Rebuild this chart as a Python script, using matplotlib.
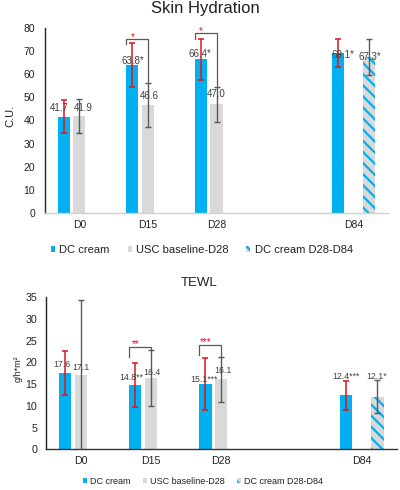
import numpy as np
import matplotlib
matplotlib.use("Agg")
import matplotlib.pyplot as plt
from matplotlib.patches import Patch

plt.rcParams['font.family'] = ['Liberation Sans', 'DejaVu Sans']
plt.rcParams['hatch.linewidth'] = 1.6

nan = np.nan
categories = ["D0", "D15", "D28", "", "D84"]
series_names = ["DC cream", "USC baseline-D28", "DC cream D28-D84"]

# ---- Skin Hydration (C.U.) ----
hyd_dc = [41.7, 63.8, 66.4, nan, 69.1]
hyd_dc_err = [7.1, 9.4, 8.9, nan, 6.2]
hyd_dc_lbl = ["41.7", "63.8*", "66.4*", "", "69.1*"]
hyd_usc = [41.9, 46.6, 47.0, nan, nan]
hyd_usc_err = [7.3, 9.4, 7.6, nan, nan]
hyd_usc_lbl = ["41.9", "46.6", "47.0", "", ""]
hyd_dc84 = [nan, nan, nan, nan, 67.3]
hyd_dc84_err = [nan, nan, nan, nan, 7.9]
hyd_dc84_lbl = ["", "", "", "", "67.3*"]
hyd_sig_idx = [1, 2]
hyd_sig_txt = ["*", "*"]
hyd_sig_top = [75.3, 77.5]
hyd_sig_left = [73.0, 75.0]
hyd_yticks = [0, 10, 20, 30, 40, 50, 60, 70, 80]

# ---- TEWL (g/h*m2) ----
tewl_dc = [17.6, 14.8, 15.1, nan, 12.4]
tewl_dc_err = [5.15, 5.1, 6.0, nan, 3.3]
tewl_dc_lbl = ["17.6", "14.8**", "15.1***", "", "12.4***"]
tewl_usc = [17.1, 16.4, 16.1, nan, nan]
tewl_usc_err = [17.3, 6.45, 5.1, nan, nan]
tewl_usc_lbl = ["17.1", "16.4", "16.1", "", ""]
tewl_dc84 = [nan, nan, nan, nan, 12.1]
tewl_dc84_err = [nan, nan, nan, nan, 3.75]
tewl_dc84_lbl = ["", "", "", "", "12.1*"]
tewl_sig_idx = [1, 2]
tewl_sig_txt = ["**", "***"]
tewl_sig_top = [23.5, 24.0]
tewl_sig_left = [21.3, 21.7]
tewl_yticks = [0, 5, 10, 15, 20, 25, 30, 35]

BLUE = '#00B0F0'
GREY = '#D9D9D9'
RED = '#E3141B'
DGREY = '#595959'
W = 0.175
OFF = 0.225

# label offsets in pixels (dx, dy) from bar top centre
hyd_off = {
    'dc': [(-4.7, 8.3), (0.5, 4), (-1, 5), (0, 0), (4.7, -2)],
    'usc': [(3.5, 7.8), (1.7, 9.2), (0, 10), (0, 0), (0, 0)],
    'dc84': [(0, 0), (0, 0), (0, 0), (0, 0), (0.5, 0)],
}
tewl_off = {
    'dc': [(-2.8, 8.6), (-3.5, 7.3), (-1, 4.7), (0, 0), (0, 18.8)],
    'usc': [(0.5, 7.7), (0.7, 5.8), (1.8, 8.7), (0, 0), (0, 0)],
    'dc84': [(0, 0), (0, 0), (0, 0), (0, 0), (-1, 20.7)],
}


def draw(ax, dc, dce, dcl, usc, usce, uscl, d84, d84e, d84l, offs,
         sig_idx, sig_txt, sig_top, sig_left, yticks, lblsize, ticksize,
         ypad, xpad, bottom_col, star_dy):
    x = np.arange(len(categories))
    ax.bar(x - OFF, dc, W, color=BLUE, zorder=2)
    ax.bar(x, usc, W, color=GREY, zorder=2)
    ax.bar(x + OFF, d84, W, color=GREY, edgecolor=BLUE, hatch='\\\\\\',
           linewidth=0, zorder=2)
    ax.errorbar(x - OFF, dc, yerr=dce, fmt='none', ecolor=RED, elinewidth=1.1,
                capsize=2.3, capthick=1.1, zorder=3)
    ax.errorbar(x, usc, yerr=usce, fmt='none', ecolor=DGREY, elinewidth=1.0,
                capsize=2.3, capthick=1.0, zorder=3)
    ax.errorbar(x + OFF, d84, yerr=d84e, fmt='none', ecolor=DGREY,
                elinewidth=1.0, capsize=2.3, capthick=1.0, zorder=3)
    for sx, vals, lbls, key in ((x - OFF, dc, dcl, 'dc'), (x, usc, uscl, 'usc'),
                                (x + OFF, d84, d84l, 'd84' if 'd84' in offs else 'dc84')):
        for i, (xx, v, t) in enumerate(zip(sx, vals, lbls)):
            if t and not np.isnan(v):
                dx, dy = offs[key][i]
                ax.annotate(t, (xx, v), xytext=(dx, dy), textcoords='offset pixels',
                            ha='center', va='center', fontsize=lblsize,
                            color='#404040', zorder=4)
    for i, txt, top, left in zip(sig_idx, sig_txt, sig_top, sig_left):
        xl = i - OFF - W / 2
        xr = i
        yr = usc[i] + usce[i]
        ax.plot([xl, xl, xr, xr], [left, top, top, yr], color=DGREY, lw=0.9,
                zorder=3, solid_joinstyle='miter')
        ax.annotate(txt, (i - OFF, top), xytext=(0, star_dy),
                    textcoords='offset pixels', ha='center', va='baseline',
                    fontsize=7, color=RED, zorder=4)
    ax.set_xlim(-0.5, len(categories) - 0.5)
    ax.set_ylim(yticks[0], yticks[-1])
    ax.set_yticks(yticks)
    ax.set_xticks(x)
    ax.set_xticklabels(categories)
    ax.tick_params(axis='both', length=0, labelsize=ticksize, colors='#222222')
    ax.tick_params(axis='y', pad=ypad)
    ax.tick_params(axis='x', pad=xpad)
    for s in ('top', 'right'):
        ax.spines[s].set_visible(False)
    ax.spines['left'].set_color('#222222')
    ax.spines['left'].set_linewidth(1.0)
    ax.spines['bottom'].set_color(bottom_col)
    ax.spines['bottom'].set_linewidth(1.0)


fig = plt.figure(figsize=(4, 4.9), dpi=100)
H = 490.0
ax1 = fig.add_axes([45 / 400, 1 - 213.3 / H, (388 - 45) / 400, (213.3 - 27.7) / H])
ax2 = fig.add_axes([45.7 / 400, 1 - 449.3 / H, (396.7 - 45.7) / 400, (449.3 - 297.3) / H])

draw(ax1, hyd_dc, hyd_dc_err, hyd_dc_lbl, hyd_usc, hyd_usc_err, hyd_usc_lbl,
     hyd_dc84, hyd_dc84_err, hyd_dc84_lbl, hyd_off, hyd_sig_idx, hyd_sig_txt,
     hyd_sig_top, hyd_sig_left, hyd_yticks, 7, 7.5, 7, 4.5, '#D0D0D0', -1)
draw(ax2, tewl_dc, tewl_dc_err, tewl_dc_lbl, tewl_usc, tewl_usc_err, tewl_usc_lbl,
     tewl_dc84, tewl_dc84_err, tewl_dc84_lbl, tewl_off, tewl_sig_idx, tewl_sig_txt,
     tewl_sig_top, tewl_sig_left, tewl_yticks, 6.3, 7.7, 6, 5, '#333333', 0)

fig.text(205 / 400, 1 - 8.5 / H, "Skin Hydration", ha='center', va='center',
         fontsize=12, color='#222222')
fig.text(199 / 400, 1 - 283 / H, "TEWL", ha='center', va='center',
         fontsize=9.5, color='#222222')
fig.text(10.5 / 400, 1 - 116 / H, "C.U.", ha='center', va='center', rotation=90,
         fontsize=8, color='#222222')
fig.text(18 / 400, 1 - 369 / H, "g/h*m²", ha='center', va='center', rotation=90,
         fontsize=6.5, color='#222222')

handles = [Patch(facecolor=BLUE, linewidth=0),
           Patch(facecolor=GREY, linewidth=0),
           Patch(facecolor=GREY, edgecolor=BLUE, hatch='\\\\\\', linewidth=0)]
fig.legend(handles, series_names, loc='center', bbox_to_anchor=(202 / 400, 1 - 250 / H),
           ncol=3, frameon=False, fontsize=8, handlelength=0.36, handleheight=0.36,
           handletextpad=0.4, columnspacing=1.6, borderpad=0, labelcolor='#222222')
fig.legend(handles, series_names, loc='center', bbox_to_anchor=(203 / 400, 1 - 481 / H),
           ncol=3, frameon=False, fontsize=6.5, handlelength=0.45, handleheight=0.45,
           handletextpad=0.3, columnspacing=1.4, borderpad=0, labelcolor='#222222')

fig.savefig('out.png', dpi=100)
